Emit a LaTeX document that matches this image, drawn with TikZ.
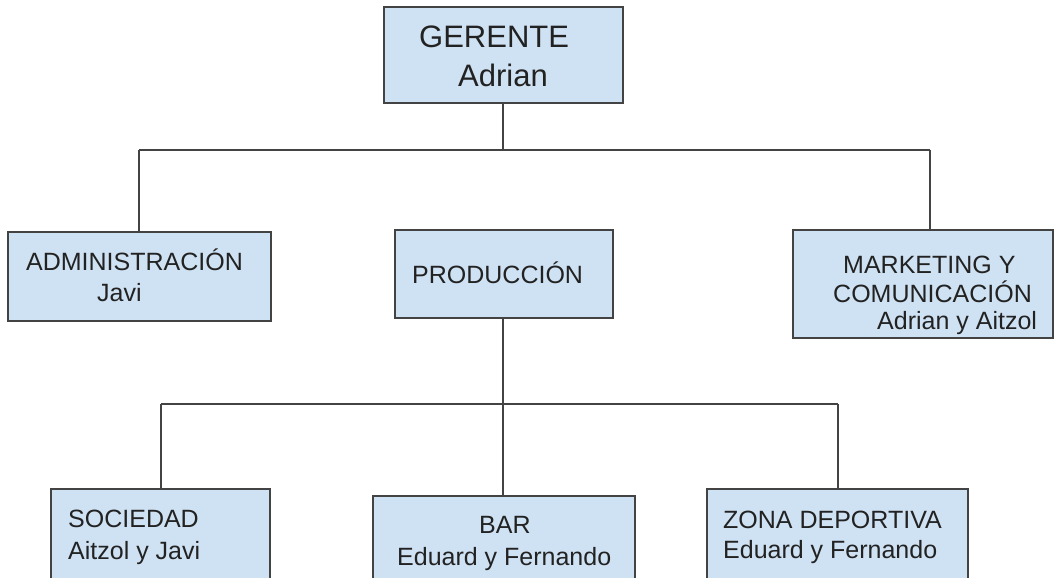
\documentclass[tikz,border=0pt]{standalone}
\usepackage{fontspec}
\setmainfont{Liberation Sans}
\definecolor{boxfill}{HTML}{CFE2F3}
\definecolor{boxline}{HTML}{434343}
\definecolor{txt}{HTML}{222222}
\begin{document}
\begin{tikzpicture}[x=1pt,y=-1pt,
  orgbox/.style={draw=boxline, fill=boxfill, line width=1.3pt, rectangle, inner sep=0pt},
  lbl/.style={anchor=base west, inner sep=0pt, text=txt, font=\fontsize{25}{30}\selectfont},
  biglbl/.style={anchor=base west, inner sep=0pt, text=txt, font=\fontsize{31}{36}\selectfont},
  conn/.style={draw=boxline, line width=1.2pt}]
\useasboundingbox (0,0) rectangle (1055,578);
% boxes
\node[orgbox, minimum width=239pt, minimum height=96pt] (ger) at (503.5,55) {};
\node[orgbox, minimum width=263pt, minimum height=89pt] (adm) at (139.5,276.5) {};
\node[orgbox, minimum width=218pt, minimum height=88pt] (prod) at (504,274) {};
\node[orgbox, minimum width=260pt, minimum height=108pt] (mkt) at (923,284) {};
\node[orgbox, minimum width=219pt, minimum height=93pt] (soc) at (160.5,535.5) {};
\node[orgbox, minimum width=262pt, minimum height=86pt] (bar) at (504,539) {};
\node[orgbox, minimum width=261pt, minimum height=93pt] (zona) at (837.5,535.5) {};
% labels
\node[biglbl] (t1) at (419,48) {GERENTE};
\node[biglbl] (t2) at (458,87) {Adrian};
\node[lbl] (t3) at (26,270) {ADMINISTRACIÓN};
\node[lbl] (t4) at (97,301) {Javi};
\node[lbl] (t5) at (412,283) {PRODUCCIÓN};
\node[lbl] (t6) at (843,273) {MARKETING Y};
\node[lbl] (t7) at (833,302) {COMUNICACIÓN};
\node[lbl] (t8) at (877,329) {Adrian y Aitzol};
\node[lbl] (t9) at (68,527) {SOCIEDAD};
\node[lbl] (t10) at (68,559) {Aitzol y Javi};
\node[lbl] (t11) at (479,533) {BAR};
\node[lbl] (t12) at (397,565) {Eduard y Fernando};
\node[lbl] (t13) at (723,528) {ZONA DEPORTIVA};
\node[lbl] (t14) at (723,558) {Eduard y Fernando};
% junctions
\coordinate (j1) at (503,150);
\coordinate (jl) at (139,150);
\coordinate (jr) at (930,150);
\coordinate (j2) at (503,404);
\coordinate (jsl) at (161,404);
\coordinate (jsr) at (838,404);
% connectors
\draw[conn] (j1 |- ger.south) -- (j1);
\draw[conn] (jl) -- (jr);
\draw[conn] (jl) -- (jl |- adm.north);
\draw[conn] (jr) -- (jr |- mkt.north);
\draw[conn] (j2 |- prod.south) -- (j2);
\draw[conn] (jsl) -- (jsr);
\draw[conn] (jsl) -- (jsl |- soc.north);
\draw[conn] (j2) -- (j2 |- bar.north);
\draw[conn] (jsr) -- (jsr |- zona.north);
\end{tikzpicture}
\end{document}
